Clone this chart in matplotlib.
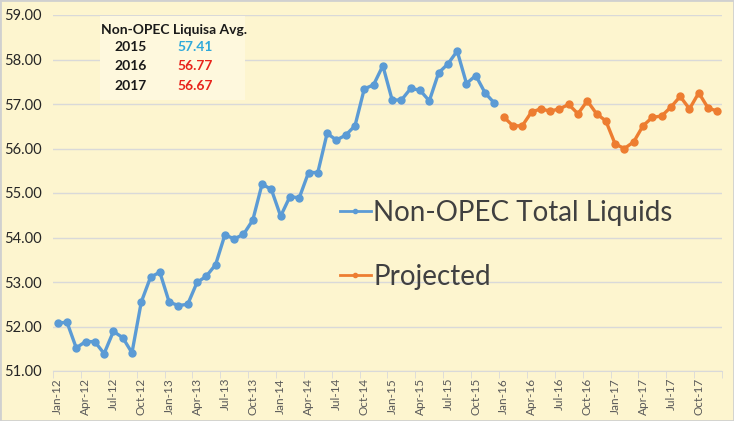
import matplotlib.pyplot as plt
import numpy as np

# monthly values, Jan-12 .. Dec-15 (actual) and Jan-16 .. Dec-17 (projected)
actual = [52.07, 52.10, 51.52, 51.66, 51.66, 51.39, 51.89, 51.75, 51.41, 52.55, 53.11, 53.22,
          52.55, 52.47, 52.50, 52.99, 53.13, 53.39, 54.06, 53.97, 54.07, 54.39, 55.20, 55.08,
          54.48, 54.92, 54.89, 55.46, 55.46, 56.34, 56.19, 56.30, 56.51, 57.34, 57.43, 57.86,
          57.09, 57.09, 57.35, 57.31, 57.07, 57.70, 57.90, 58.19, 57.46, 57.64, 57.25, 57.02]
projected = [56.71, 56.51, 56.51, 56.82, 56.89, 56.84, 56.89, 56.99, 56.78, 57.07, 56.78, 56.62,
             56.10, 56.00, 56.15, 56.51, 56.70, 56.73, 56.93, 57.17, 56.89, 57.25, 56.91, 56.84]

months = ['Jan', 'Apr', 'Jul', 'Oct']
years = ['12', '13', '14', '15', '16', '17']
tick_labels = [m + '-' + y for y in years for m in months]

avg_years = ['2015', '2016', '2017']
avg_values = ['57.41', '56.77', '56.67']
avg_colors = ['#2FA9DA', '#E8231B', '#E8231B']

bg = '#FDF5CF'
plt.rcParams['font.family'] = ['Lato', 'DejaVu Sans']

fig = plt.figure(figsize=(7.34, 4.21), dpi=100, facecolor=bg)
ax = fig.add_axes([53 / 734, 50 / 421, 669 / 734, 356 / 421], facecolor=bg)

x_act = np.arange(len(actual))
x_proj = np.arange(len(actual), len(actual) + len(projected))
ax.plot(x_act, actual, color='#5B9BD5', lw=2.4, marker='o', ms=5, label='Non-OPEC Total Liquids')
ax.plot(x_proj, projected, color='#ED7D31', lw=2.4, marker='o', ms=5, label='Projected')

ax.set_xlim(-0.5, 71.5)
ax.set_ylim(51, 59)
ax.set_yticks(np.arange(51, 59.5, 1))
ax.set_yticklabels(['%.2f' % v for v in np.arange(51, 59.5, 1)])
ax.grid(axis='y', color='#D9D9D9', lw=1)
ax.set_axisbelow(True)

ax.set_xticks(np.arange(0, 72, 3))
ax.set_xticklabels(tick_labels, rotation=90)
ax.set_xticks(np.arange(-0.5, 72, 3), minor=True)
ax.tick_params(axis='x', which='major', length=0, labelsize=8.5, labelcolor='#595959', pad=5)
ax.tick_params(axis='x', which='minor', length=5, color='#D9D9D9')
ax.tick_params(axis='y', length=0, labelsize=10.5, labelcolor='#262626', pad=35)
for lab in ax.get_yticklabels():
    lab.set_horizontalalignment('left')

for s in ['top', 'right', 'left']:
    ax.spines[s].set_visible(False)
ax.spines['bottom'].set_color('#D9D9D9')

leg = ax.legend(loc='upper left', bbox_to_anchor=(262 / 669, 196 / 356), frameon=False,
                fontsize=20, labelcolor='#404040', handlelength=1.1, handletextpad=0.1,
                labelspacing=1.35, markerscale=0.6)
for h in leg.get_lines():
    h.set_linewidth(2)

# averages box
fig.patches.append(plt.Rectangle((100 / 734, 1 - 100 / 421), 145 / 734, 84 / 421,
                                 transform=fig.transFigure, facecolor='#FEF8DD', edgecolor='none'))
fig.text(174 / 734, 1 - 30 / 421, 'Non-OPEC Liquisa Avg.', ha='center', va='center',
         fontsize=10, fontweight='bold', color='#1A1A1A')
for i, (yr, val, c) in enumerate(zip(avg_years, avg_values, avg_colors)):
    yy = 1 - (47 + i * 19.5) / 421
    fig.text(131 / 734, yy, yr, ha='center', va='center', fontsize=10, fontweight='bold', color='#1A1A1A')
    fig.text(195 / 734, yy, val, ha='center', va='center', fontsize=10, fontweight='bold', color=c)

fig.patches.append(plt.Rectangle((0, 0), 1, 1, transform=fig.transFigure, fill=False,
                                 edgecolor='#D0D0D0', lw=2))
fig.savefig('out.png', dpi=100, facecolor=bg)
